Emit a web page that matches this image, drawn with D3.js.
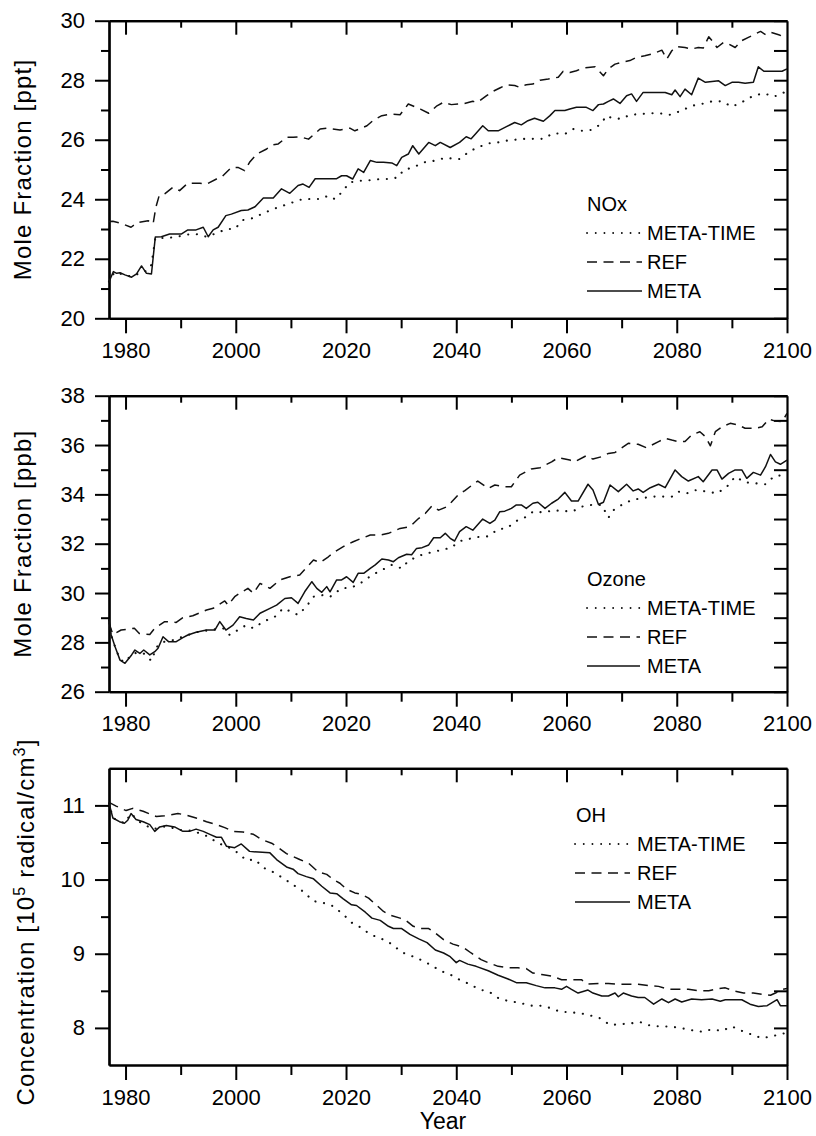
<!DOCTYPE html>
<html>
<head>
<meta charset="utf-8">
<script src="https://cdn.jsdelivr.net/npm/d3@7/dist/d3.min.js"></script>
<style>
  html, body { margin: 0; padding: 0; background: #fff; }
  svg { display: block; font-family: "Liberation Sans", Arial, Helvetica, sans-serif; }
</style>
</head>
<body>
<svg id="chart" width="816" height="1136"></svg>
<script>
// ---- Tick values ----
const yearTicks = [1980, 2000, 2020, 2040, 2060, 2080, 2100];
const yearMinorTicks = [1990, 2010, 2030, 2050, 2070, 2090];
const noxTicks = [20, 22, 24, 26, 28, 30];
const noxMinorTicks = [21, 23, 25, 27, 29];
const ozoneTicks = [26, 28, 30, 32, 34, 36, 38];
const ozoneMinorTicks = [27, 29, 31, 33, 35, 37];
const ohTicks = [8, 9, 10, 11];
const ohMinorTicks = [8.5, 9.5, 10.5];

const seriesNames = ["META-TIME", "REF", "META"];

// ---- NOx mole fraction [ppt], [year, value] ----
const noxMeta = [[1977.0,21.23],[1977.8,21.57],[1978.4,21.51],[1979.0,21.53],[1979.9,21.46],[1981.1,21.38],[1982.0,21.49],[1982.9,21.76],[1983.8,21.51],[1984.7,21.49],[1985.4,22.73],[1986.5,22.74],[1988.0,22.83],[1990.1,22.83],[1991.3,22.97],[1992.8,22.97],[1994.1,23.06],[1995.0,22.74],[1995.9,22.97],[1996.8,23.06],[1998.2,23.45],[1999.2,23.5],[2001.0,23.62],[2002.2,23.64],[2003.5,23.75],[2005.0,24.04],[2006.8,24.04],[2008.3,24.35],[2009.8,24.2],[2011.3,24.46],[2012.2,24.51],[2013.3,24.4],[2014.4,24.69],[2015.9,24.69],[2018.3,24.69],[2019.2,24.79],[2020.1,24.79],[2021.2,24.68],[2022.2,25.02],[2023.2,24.9],[2024.4,25.3],[2025.6,25.24],[2026.8,25.24],[2028.3,25.22],[2029.2,25.13],[2030.1,25.41],[2031.3,25.52],[2032.1,25.8],[2033.2,25.52],[2035.0,25.91],[2036.2,25.8],[2037.1,25.91],[2038.9,25.74],[2040.6,25.91],[2041.8,26.1],[2042.7,26.03],[2043.6,26.22],[2044.8,26.47],[2045.8,26.3],[2047.6,26.3],[2049.1,26.44],[2050.6,26.58],[2051.8,26.5],[2053.0,26.64],[2054.2,26.72],[2055.8,26.62],[2057.0,26.81],[2057.9,26.98],[2059.7,26.98],[2060.6,27.03],[2061.8,27.09],[2063.6,27.09],[2064.8,26.98],[2065.8,27.18],[2066.7,27.2],[2067.6,27.29],[2068.5,27.37],[2069.7,27.22],[2070.9,27.48],[2071.8,27.54],[2072.7,27.29],[2073.9,27.59],[2075.5,27.59],[2077.9,27.59],[2079.1,27.51],[2079.7,27.67],[2080.6,27.45],[2081.5,27.7],[2082.7,27.51],[2083.9,28.07],[2085.2,27.93],[2086.4,27.96],[2087.6,27.98],[2088.8,27.82],[2090.0,27.93],[2091.2,27.93],[2092.4,27.9],[2093.9,27.93],[2094.8,28.45],[2095.8,28.3],[2097.6,28.3],[2099.1,28.3],[2100,28.38]];
const noxRef = [[1977.0,23.25],[1977.7,23.26],[1979.2,23.19],[1981.0,23.06],[1982.2,23.22],[1984.1,23.28],[1985.0,23.17],[1985.5,23.73],[1986.1,24.12],[1987.1,24.18],[1988.6,24.4],[1989.8,24.29],[1991.3,24.54],[1993.5,24.54],[1994.7,24.51],[1996.5,24.68],[1997.4,24.74],[1999.2,25.07],[2000.4,25.07],[2001.6,24.96],[2002.5,25.24],[2003.8,25.52],[2005.6,25.69],[2006.8,25.83],[2007.7,25.86],[2009.2,26.08],[2010.4,26.08],[2011.6,26.1],[2013.2,26.02],[2015.3,26.36],[2016.5,26.39],[2018.9,26.33],[2020.7,26.39],[2021.6,26.3],[2023.8,26.47],[2025.0,26.66],[2026.5,26.81],[2028.3,26.86],[2029.8,26.84],[2031.3,27.2],[2033.5,27.03],[2035.0,26.89],[2036.5,27.14],[2037.7,27.26],[2039.1,27.18],[2040.3,27.2],[2041.5,27.22],[2043.0,27.29],[2043.9,27.26],[2045.5,27.48],[2046.7,27.63],[2047.9,27.74],[2049.1,27.85],[2050.6,27.82],[2051.5,27.76],[2052.7,27.85],[2053.9,27.87],[2055.2,28.0],[2056.7,28.04],[2058.5,28.1],[2059.4,28.3],[2060.6,28.26],[2061.8,28.32],[2063.0,28.41],[2063.9,28.43],[2065.2,28.45],[2066.7,28.15],[2067.6,28.38],[2068.8,28.54],[2070.0,28.6],[2071.5,28.66],[2072.7,28.77],[2074.2,28.82],[2075.8,28.9],[2077.3,29.01],[2078.2,28.71],[2079.1,28.99],[2080.0,29.13],[2081.5,29.1],[2082.7,29.05],[2083.9,29.1],[2084.8,29.08],[2085.8,29.46],[2086.4,29.33],[2087.3,29.1],[2088.5,29.27],[2089.4,29.22],[2090.6,29.1],[2091.8,29.33],[2093.0,29.44],[2094.2,29.55],[2095.2,29.64],[2096.1,29.53],[2097.0,29.61],[2098.5,29.53],[2099.7,29.44],[2100,29.42]];
const noxMetaTime = [[1977.0,21.23],[1978.0,21.55],[1979.0,21.5],[1980.0,21.45],[1981.0,21.4],[1982.0,21.47],[1983.0,21.55],[1984.0,21.6],[1984.7,21.8],[1985.4,22.7],[1987.1,22.7],[1988.9,22.72],[1991.0,22.81],[1992.8,22.83],[1994.7,22.74],[1996.5,22.86],[1998.3,23.0],[1999.8,23.0],[2001.3,23.3],[2003.2,23.37],[2005.0,23.53],[2006.8,23.67],[2008.0,23.75],[2009.8,23.86],[2011.6,23.98],[2013.5,24.01],[2015.3,24.01],[2016.8,24.12],[2018.0,24.0],[2019.2,24.23],[2020.7,24.57],[2022.5,24.62],[2024.4,24.64],[2026.2,24.68],[2028.0,24.68],[2029.5,24.74],[2030.4,24.98],[2032.2,25.07],[2034.1,25.24],[2036.2,25.3],[2038.0,25.39],[2040.6,25.35],[2042.4,25.61],[2043.9,25.74],[2045.8,25.88],[2047.3,25.9],[2049.1,25.97],[2050.6,26.0],[2052.4,26.03],[2054.2,26.03],[2055.8,26.03],[2057.6,26.22],[2059.7,26.19],[2061.2,26.36],[2062.7,26.3],[2064.5,26.33],[2066.1,26.51],[2067.3,26.81],[2068.2,26.73],[2070.0,26.7],[2071.5,26.84],[2073.3,26.86],[2075.2,26.89],[2076.9,26.89],[2078.8,26.84],[2080.9,26.98],[2082.7,27.14],[2084.5,27.2],[2086.4,27.29],[2088.2,27.29],[2090.0,27.11],[2091.8,27.26],[2093.9,27.48],[2095.8,27.56],[2097.6,27.45],[2099.1,27.54],[2100,27.67]];

// ---- Ozone mole fraction [ppb] ----
const ozoneMeta = [[1977.0,28.9],[1977.4,28.3],[1978.1,27.82],[1979.0,27.28],[1979.9,27.15],[1981.1,27.49],[1981.7,27.69],[1982.6,27.55],[1983.3,27.69],[1984.4,27.49],[1985.3,27.62],[1985.9,27.76],[1986.8,28.23],[1987.8,28.03],[1989.2,28.03],[1990.4,28.19],[1991.3,28.3],[1992.8,28.41],[1994.7,28.5],[1996.2,28.5],[1997.1,28.84],[1998.2,28.5],[1999.5,28.7],[2000.7,29.04],[2001.9,28.97],[2003.2,28.91],[2004.4,29.18],[2006.2,29.38],[2007.4,29.51],[2008.9,29.78],[2010.1,29.81],[2011.3,29.58],[2012.5,30.05],[2013.8,30.46],[2014.7,30.19],[2015.6,30.03],[2016.5,30.26],[2017.1,30.05],[2018.3,30.53],[2019.2,30.53],[2020.1,30.66],[2021.3,30.43],[2022.2,30.8],[2023.2,30.8],[2024.4,31.0],[2025.3,31.14],[2026.5,31.38],[2027.7,31.34],[2028.6,31.27],[2029.5,31.43],[2031.0,31.57],[2031.9,31.55],[2032.8,31.81],[2033.8,31.84],[2035.0,31.95],[2035.9,32.24],[2037.1,32.24],[2038.0,32.42],[2038.9,32.22],[2039.7,32.11],[2040.6,32.49],[2041.8,32.69],[2043.0,32.55],[2044.8,33.0],[2046.1,32.82],[2047.0,32.96],[2047.9,33.3],[2048.8,33.32],[2050.0,33.43],[2050.9,33.57],[2051.8,33.57],[2052.7,33.43],[2053.9,33.64],[2054.8,33.68],[2056.1,33.43],[2057.3,33.64],[2058.5,33.81],[2059.7,34.08],[2060.9,33.73],[2062.1,33.73],[2063.9,34.41],[2064.8,34.18],[2065.8,33.59],[2066.7,33.68],[2067.9,34.38],[2069.4,34.11],[2070.9,34.41],[2072.1,34.14],[2073.0,34.22],[2073.9,34.08],[2075.2,34.27],[2076.7,34.41],[2077.9,34.27],[2079.7,34.99],[2080.9,34.72],[2082.1,34.54],[2083.9,34.72],[2084.8,34.51],[2086.4,34.99],[2087.3,34.99],[2088.2,34.62],[2089.4,34.85],[2090.6,34.99],[2091.8,34.99],[2092.7,34.65],[2093.9,34.89],[2095.2,34.78],[2096.1,35.12],[2097.0,35.62],[2097.9,35.32],[2098.8,35.22],[2100,35.39]];
const ozoneRef = [[1977.0,28.8],[1977.7,28.32],[1979.2,28.5],[1981.6,28.57],[1982.5,28.36],[1984.4,28.32],[1985.3,28.57],[1987.1,28.84],[1989.2,28.81],[1990.4,29.0],[1992.2,29.08],[1994.7,29.31],[1995.9,29.38],[1998.0,29.68],[1998.6,29.51],[1999.8,29.85],[2000.7,29.99],[2002.2,30.19],[2003.2,29.99],[2004.4,30.39],[2006.2,30.19],[2008.0,30.53],[2009.8,30.66],[2011.6,30.73],[2014.1,31.34],[2015.3,31.24],[2016.8,31.47],[2018.0,31.68],[2019.5,31.88],[2021.3,32.08],[2022.5,32.19],[2024.4,32.35],[2026.2,32.35],[2027.7,32.42],[2029.8,32.62],[2031.6,32.69],[2033.2,33.03],[2034.4,33.23],[2035.6,33.54],[2036.8,33.36],[2038.3,33.5],[2039.1,33.68],[2040.6,34.04],[2041.5,34.14],[2043.3,34.45],[2043.9,34.54],[2045.8,34.24],[2047.0,34.38],[2048.8,34.31],[2050.0,34.31],[2051.5,34.78],[2053.6,35.03],[2055.2,35.08],[2057.3,35.32],[2058.5,35.49],[2060.6,35.39],[2061.5,35.32],[2063.6,35.57],[2064.8,35.43],[2066.4,35.53],[2067.6,35.66],[2068.8,35.7],[2071.2,36.07],[2073.0,36.03],[2074.5,35.89],[2076.7,36.14],[2077.9,36.27],[2079.1,36.2],[2080.3,36.14],[2081.5,36.14],[2082.7,36.41],[2084.2,36.54],[2085.2,36.34],[2086.1,35.97],[2087.0,36.54],[2088.2,36.74],[2089.7,36.88],[2091.2,36.81],[2092.4,36.68],[2094.2,36.68],[2095.5,36.74],[2096.7,37.05],[2097.9,36.97],[2099.1,36.95],[2100,37.28]];
const ozoneMetaTime = [[1977.0,28.9],[1977.4,28.3],[1978.1,27.82],[1979.0,27.3],[1979.9,27.2],[1981.1,27.5],[1982.2,27.6],[1983.3,27.55],[1984.7,27.25],[1985.6,27.8],[1986.5,28.0],[1988.6,28.09],[1990.4,28.23],[1992.8,28.41],[1995.3,28.5],[1997.7,28.57],[1998.9,28.3],[2001.9,28.7],[2003.2,28.57],[2005.0,28.84],[2007.1,29.04],[2008.6,29.38],[2010.1,29.24],[2011.3,29.11],[2012.8,29.45],[2014.1,29.85],[2015.9,29.92],[2017.1,29.85],[2019.2,30.19],[2021.0,30.22],[2022.8,30.43],[2024.7,30.73],[2026.5,30.93],[2028.3,31.14],[2030.1,31.0],[2031.3,31.3],[2033.2,31.51],[2034.7,31.61],[2036.2,31.68],[2037.7,31.78],[2038.9,31.81],[2040.6,32.1],[2042.4,32.2],[2044.2,32.28],[2045.8,32.3],[2047.6,32.59],[2049.1,32.62],[2050.9,32.92],[2052.7,33.09],[2053.9,33.3],[2056.1,33.27],[2057.6,33.36],[2059.4,33.32],[2061.2,33.32],[2062.7,33.5],[2064.5,33.57],[2066.4,33.57],[2067.6,33.05],[2068.5,33.36],[2070.0,33.57],[2071.8,33.77],[2073.6,33.84],[2075.5,33.91],[2077.3,33.91],[2079.1,33.91],[2080.3,34.11],[2081.8,34.04],[2083.6,34.18],[2085.5,34.11],[2087.3,34.04],[2089.1,34.31],[2090.6,34.72],[2092.4,34.49],[2094.2,34.45],[2096.1,34.41],[2097.6,34.72],[2099.1,34.78],[2100,34.85]];

// ---- OH concentration [10^5 radical/cm^3] ----
const ohMeta = [[1977.0,11.03],[1977.7,10.83],[1978.9,10.78],[1979.8,10.76],[1980.4,10.8],[1981.0,10.89],[1981.9,10.81],[1983.2,10.78],[1984.4,10.74],[1985.3,10.65],[1986.2,10.71],[1987.4,10.73],[1988.9,10.71],[1990.4,10.65],[1991.6,10.65],[1992.8,10.68],[1994.1,10.65],[1995.3,10.61],[1996.5,10.57],[1997.4,10.57],[1998.3,10.45],[1999.8,10.43],[2001.0,10.48],[2002.5,10.38],[2004.1,10.37],[2006.2,10.36],[2007.4,10.27],[2009.2,10.17],[2010.4,10.14],[2011.3,10.08],[2012.8,10.04],[2014.1,10.01],[2015.6,9.91],[2017.1,9.82],[2018.3,9.81],[2019.5,9.74],[2021.0,9.66],[2021.9,9.65],[2023.5,9.56],[2024.7,9.48],[2026.2,9.45],[2027.7,9.37],[2028.6,9.34],[2030.1,9.34],[2031.6,9.26],[2033.2,9.2],[2034.7,9.15],[2036.2,9.05],[2037.7,9.01],[2038.9,8.96],[2040.0,8.88],[2040.6,8.91],[2042.1,8.86],[2043.6,8.83],[2045.8,8.77],[2047.6,8.71],[2049.4,8.66],[2050.9,8.61],[2052.7,8.61],[2054.5,8.57],[2056.1,8.54],[2057.9,8.54],[2059.1,8.52],[2060.0,8.56],[2060.9,8.52],[2062.1,8.47],[2063.9,8.51],[2064.8,8.47],[2066.4,8.43],[2067.6,8.43],[2068.8,8.47],[2069.4,8.42],[2070.3,8.47],[2071.8,8.43],[2073.0,8.41],[2074.2,8.41],[2075.8,8.32],[2077.3,8.39],[2078.5,8.34],[2079.7,8.39],[2080.9,8.35],[2082.7,8.39],[2084.5,8.38],[2086.4,8.39],[2087.9,8.36],[2088.8,8.38],[2090.6,8.38],[2091.8,8.38],[2093.3,8.32],[2094.8,8.29],[2096.4,8.3],[2097.3,8.34],[2098.2,8.38],[2098.8,8.3],[2100,8.3]];
const ohRef = [[1977.0,11.04],[1978.3,10.99],[1980.1,10.93],[1981.3,10.96],[1983.2,10.92],[1985.6,10.85],[1987.1,10.86],[1989.5,10.89],[1991.0,10.87],[1992.8,10.83],[1994.7,10.78],[1996.5,10.74],[1998.0,10.7],[1999.5,10.65],[2001.3,10.64],[2003.2,10.61],[2004.7,10.54],[2006.5,10.49],[2007.7,10.43],[2009.2,10.35],[2010.4,10.31],[2011.6,10.27],[2013.2,10.22],[2015.0,10.1],[2016.5,10.07],[2017.7,10.0],[2018.9,9.95],[2020.1,9.87],[2021.6,9.82],[2022.8,9.8],[2024.1,9.75],[2025.0,9.69],[2026.8,9.57],[2028.0,9.52],[2029.8,9.48],[2031.0,9.44],[2032.2,9.37],[2033.5,9.34],[2035.0,9.34],[2036.2,9.28],[2037.7,9.19],[2039.4,9.13],[2041.2,9.09],[2042.7,9.01],[2044.5,8.92],[2045.8,8.88],[2047.6,8.83],[2049.4,8.81],[2051.2,8.81],[2052.7,8.8],[2053.9,8.74],[2055.5,8.72],[2057.3,8.7],[2059.1,8.65],[2060.9,8.65],[2062.7,8.65],[2063.9,8.59],[2065.8,8.6],[2067.6,8.6],[2069.4,8.59],[2071.2,8.59],[2073.0,8.59],[2074.8,8.57],[2076.7,8.56],[2078.5,8.52],[2080.3,8.52],[2082.1,8.52],[2083.9,8.5],[2085.8,8.5],[2087.6,8.53],[2088.8,8.54],[2090.3,8.5],[2092.1,8.47],[2093.9,8.47],[2095.8,8.45],[2097.0,8.44],[2097.9,8.47],[2099.1,8.52],[2100,8.53]];
const ohMetaTime = [[1977.0,11.03],[1977.7,10.83],[1979.8,10.76],[1981.0,10.89],[1982.5,10.78],[1984.9,10.68],[1987.4,10.72],[1989.8,10.67],[1992.2,10.66],[1993.5,10.62],[1995.0,10.58],[1996.8,10.49],[1998.6,10.44],[2000.4,10.36],[2001.9,10.26],[2003.5,10.27],[2005.0,10.16],[2006.8,10.1],[2008.6,10.02],[2010.4,9.93],[2012.2,9.84],[2014.1,9.71],[2016.2,9.68],[2017.7,9.64],[2019.5,9.53],[2021.0,9.42],[2022.8,9.35],[2024.4,9.26],[2026.5,9.2],[2028.3,9.13],[2030.1,9.02],[2031.9,8.97],[2033.8,8.91],[2035.6,8.84],[2037.1,8.77],[2038.9,8.72],[2040.6,8.65],[2042.4,8.59],[2044.2,8.52],[2046.1,8.48],[2047.9,8.39],[2049.7,8.36],[2051.5,8.34],[2053.3,8.3],[2055.2,8.3],[2057.0,8.27],[2058.8,8.22],[2060.6,8.21],[2062.4,8.2],[2064.2,8.17],[2066.1,8.13],[2067.9,8.04],[2069.7,8.05],[2071.5,8.06],[2073.3,8.08],[2075.2,8.03],[2077.0,8.02],[2078.8,8.02],[2080.6,8.0],[2082.7,7.97],[2084.5,7.95],[2086.4,7.98],[2088.2,7.96],[2090.0,8.02],[2091.8,7.96],[2093.6,7.91],[2095.5,7.86],[2097.3,7.89],[2098.8,7.91],[2100,7.94]];

// ---- Layout ----
const svg = d3.select("#chart");
const left = 109, right = 787;
const x = d3.scaleLinear().domain([1977, 2100]).range([left, right]);

const panels = [
  { top: 20.7, bottom: 318.3, domain: [20, 30], ticks: noxTicks, minor: noxMinorTicks,
    legend: { title: "NOx", x: 587, y: 204, lineX1: 587, lineX2: 642, textX: 647 },
    series: [noxMetaTime, noxRef, noxMeta] },
  { top: 395.7, bottom: 691.7, domain: [26, 38], ticks: ozoneTicks, minor: ozoneMinorTicks,
    legend: { title: "Ozone", x: 587, y: 579, lineX1: 587, lineX2: 640, textX: 647 },
    series: [ozoneMetaTime, ozoneRef, ozoneMeta] },
  { top: 768.3, bottom: 1065, domain: [7.5, 11.5], ticks: ohTicks, minor: ohMinorTicks,
    legend: { title: "OH", x: 576, y: 815, lineX1: 575, lineX2: 630, textX: 637 },
    series: [ohMetaTime, ohRef, ohMeta] }
];

// Line styles in legend order: META-TIME dotted, REF dashed, META solid
const styles = [
  { dash: "0.1,8.6", width: 2.1, legendWidth: 1.8, cap: "round" },
  { dash: "10,6.5", width: 1.5, legendWidth: 1.3, cap: "butt" },
  { dash: null, width: 1.5, legendWidth: 1.3, cap: "butt" }
];

const font = 22;

function styleAxis(g, stroke) {
  g.selectAll(".domain").attr("stroke", "#000").attr("stroke-width", 2.2);
  g.selectAll(".tick line").attr("stroke", "#000").attr("stroke-width", stroke);
  g.selectAll("text").attr("fill", "#000").attr("font-size", font)
    .attr("font-family", "'Liberation Sans', Arial, Helvetica, sans-serif");
}

panels.forEach(p => {
  const y = d3.scaleLinear().domain(p.domain).range([p.bottom, p.top]);
  const g = svg.append("g");

  // bottom axis: outward ticks with year labels
  g.append("g").attr("transform", `translate(0,${p.bottom})`)
    .call(d3.axisBottom(x).tickValues(yearMinorTicks).tickSize(10).tickSizeOuter(0).tickFormat(""))
    .call(a => styleAxis(a, 2));
  g.append("g").attr("transform", `translate(0,${p.bottom})`)
    .call(d3.axisBottom(x).tickValues(yearTicks).tickSize(15).tickSizeOuter(0).tickPadding(9).tickFormat(d3.format("d")))
    .call(a => styleAxis(a, 2));

  // top axis: inward ticks
  g.append("g").attr("transform", `translate(0,${p.top})`)
    .call(d3.axisTop(x).tickValues(yearMinorTicks).tickSize(-7).tickSizeOuter(0).tickFormat(""))
    .call(a => styleAxis(a, 2));
  g.append("g").attr("transform", `translate(0,${p.top})`)
    .call(d3.axisTop(x).tickValues(yearTicks.filter(d => d < 2100)).tickSize(-14).tickSizeOuter(0).tickFormat(""))
    .call(a => styleAxis(a, 2));

  // left axis: outward ticks with labels
  g.append("g").attr("transform", `translate(${left},0)`)
    .call(d3.axisLeft(y).tickValues(p.minor).tickSize(8).tickSizeOuter(0).tickFormat(""))
    .call(a => styleAxis(a, 2));
  g.append("g").attr("transform", `translate(${left},0)`)
    .call(d3.axisLeft(y).tickValues(p.ticks).tickSize(14).tickSizeOuter(0).tickPadding(10).tickFormat(d3.format("d")))
    .call(a => styleAxis(a, 2));

  // right axis: inward ticks
  g.append("g").attr("transform", `translate(${right},0)`)
    .call(d3.axisRight(y).tickValues(p.ticks.concat(p.minor)).tickSize(-13).tickSizeOuter(0).tickFormat(""))
    .call(a => styleAxis(a, 2));

  // data lines
  const line = d3.line().x(d => x(d[0])).y(d => y(d[1]));
  p.series.forEach((s, i) => {
    const st = styles[i];
    g.append("path").datum(s)
      .attr("d", line)
      .attr("fill", "none")
      .attr("stroke", "#111")
      .attr("stroke-width", st.width)
      .attr("stroke-linecap", st.cap)
      .attr("stroke-linejoin", "round")
      .attr("stroke-dasharray", st.dash);
  });

  // legend
  const L = p.legend;
  g.append("text").attr("x", L.x).attr("y", L.y + 7)
    .attr("font-size", 20).text(L.title);
  seriesNames.forEach((name, i) => {
    const cy = L.y + 29 * (i + 1);
    const st = styles[i];
    g.append("line").attr("x1", L.lineX1).attr("x2", L.lineX2).attr("y1", cy).attr("y2", cy)
      .attr("stroke", "#111").attr("stroke-width", st.legendWidth)
      .attr("stroke-linecap", st.cap).attr("stroke-dasharray", st.dash);
    g.append("text").attr("x", L.textX).attr("y", cy + 7)
      .attr("font-size", 20).text(name);
  });
});

// y-axis titles
function yTitle(cx, cy) {
  return svg.append("text")
    .attr("transform", `translate(${cx},${cy}) rotate(-90)`)
    .attr("text-anchor", "middle")
    .attr("font-size", 24)
    .attr("letter-spacing", 1.2);
}
yTitle(31, 169.5).text("Mole Fraction [ppt]");
yTitle(31, 543.7).text("Mole Fraction [ppb]");
const oh = yTitle(34, 922);
oh.append("tspan").text("Concentration [10");
oh.append("tspan").attr("font-size", 16).attr("dy", -9).text("5");
oh.append("tspan").attr("dy", 9).text(" radical/cm");
oh.append("tspan").attr("font-size", 16).attr("dy", -9).text("3");
oh.append("tspan").attr("dy", 9).text("]");

// x-axis title
svg.append("text").attr("x", (left + right) / 2 - 5).attr("y", 1129)
  .attr("text-anchor", "middle").attr("font-size", 23).text("Year");
</script>
</body>
</html>
